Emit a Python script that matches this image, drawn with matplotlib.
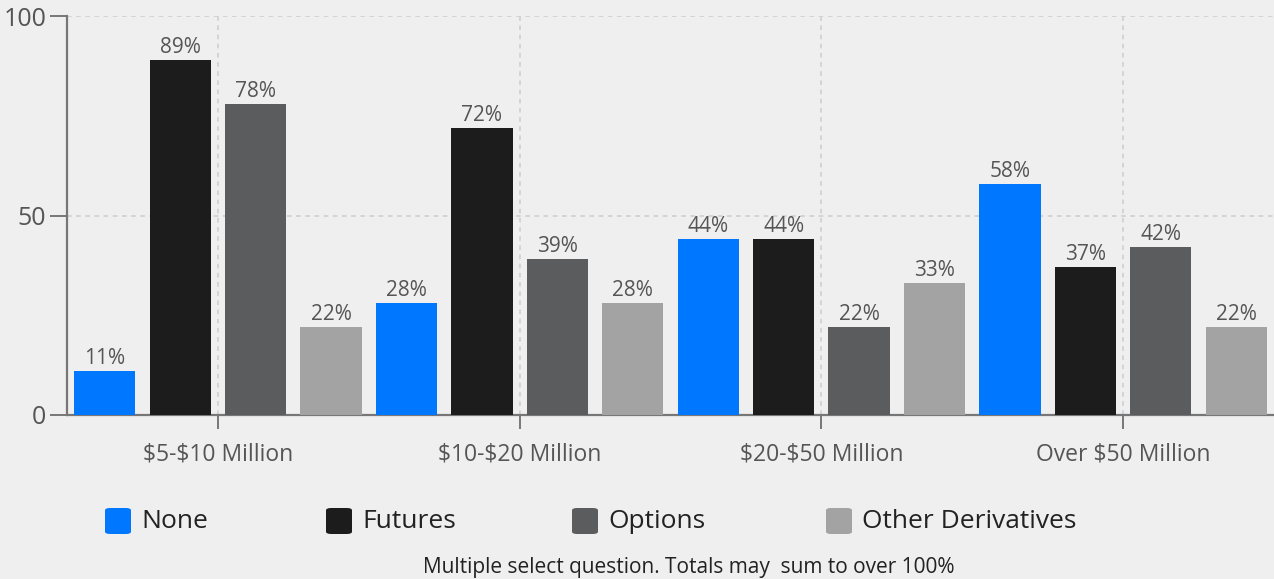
import numpy as np
import matplotlib.pyplot as plt
from matplotlib.patches import FancyBboxPatch

plt.rcParams['font.family'] = ['Open Sans', 'DejaVu Sans']

# Data
categories = [r"\$5-\$10 Million", r"\$10-\$20 Million", r"\$20-\$50 Million", r"Over \$50 Million"]
series_names = ["None", "Futures", "Options", "Other Derivatives"]
none_vals = [11, 28, 44, 58]
futures_vals = [89, 72, 44, 37]
options_vals = [78, 39, 22, 42]
other_vals = [22, 28, 33, 22]
colors = ["#0077ff", "#1c1c1c", "#5b5c5e", "#a3a3a3"]
footer = "Multiple select question. Totals may  sum to over 100%"

bg = "#efefef"
fig = plt.figure(figsize=(12.74, 5.79), dpi=100, facecolor=bg)
ax = fig.add_axes([67 / 1274, 1 - 415 / 579, 1 - 67 / 1274, (415 - 16) / 579])
ax.set_facecolor(bg)

x = np.arange(len(categories))
slot = 0.25
width = 0.203
all_vals = [none_vals, futures_vals, options_vals, other_vals]
for i, vals in enumerate(all_vals):
    pos = x + (i - 1.5) * slot
    bars = ax.bar(pos, vals, width, color=colors[i], zorder=3)
    for b, v in zip(bars, vals):
        ax.text(b.get_x() + b.get_width() / 2, v + 0.5, f"{v}%", ha="center", va="bottom",
                fontsize=15, color="#555555", zorder=4)

ax.set_xlim(-0.5, 3.5)
ax.set_ylim(0, 100)
ax.set_yticks([0, 50, 100])
ax.set_xticks(x)
ax.set_xticklabels(categories)
ax.grid(True, linestyle=(0, (3, 3)), color="#cccccc", linewidth=1.1, zorder=0)
for s in ["top", "right"]:
    ax.spines[s].set_visible(False)
for s in ["left", "bottom"]:
    ax.spines[s].set_color("#777777")
    ax.spines[s].set_linewidth(1.6)
ax.tick_params(axis="x", colors="#777777", labelcolor="#555555", labelsize=16.5,
               length=10, width=1.4, pad=10)
ax.tick_params(axis="y", colors="#777777", labelcolor="#555555", labelsize=18,
               length=12, width=1.4, pad=3)

# Legend
leg_x = [105, 326, 572, 826]
for lx, name, c in zip(leg_x, series_names, colors):
    sq = FancyBboxPatch((lx / 1274, 1 - 534 / 579), 26 / 1274, 26 / 579,
                        boxstyle="round,pad=0,rounding_size=0.004",
                        transform=fig.transFigure, facecolor=c, edgecolor="none")
    fig.patches.append(sq)
    fig.text((lx + 36) / 1274, 1 - 521 / 579, name, fontsize=19, color="#222222",
             va="center", ha="left")

fig.text(689 / 1274, 1 - 568 / 579, footer, ha="center", va="center", fontsize=15, color="#222222")

fig.savefig("out.png", dpi=100, facecolor=bg)
